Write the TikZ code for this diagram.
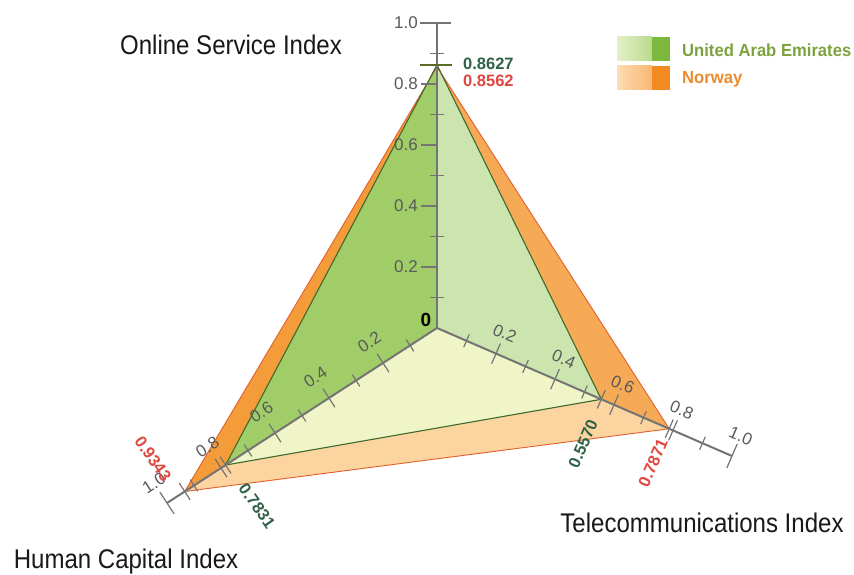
\documentclass[tikz,border=0pt]{standalone}
\usepackage{fontspec}
\usepackage{graphicx}
\setmainfont{Liberation Sans}
\usetikzlibrary{calc}
\definecolor{axisgray}{HTML}{747474}
\definecolor{labgray}{HTML}{5A5A5A}
\definecolor{norNW}{HTML}{F49C3A}
\definecolor{norNE}{HTML}{F6AA55}
\definecolor{norS}{HTML}{FCD4A0}
\definecolor{uaeNW}{HTML}{A1CD69}
\definecolor{uaeNE}{HTML}{CCE5AF}
\definecolor{uaeS}{HTML}{F0F5C8}
\definecolor{noredge}{HTML}{E2602C}
\definecolor{uaeedge}{HTML}{3D6A2C}
\definecolor{valgreen}{HTML}{2F6248}
\definecolor{valred}{HTML}{E0473F}
\definecolor{leggreen}{HTML}{7EA23E}
\definecolor{legorange}{HTML}{EC8B2B}
\definecolor{olivetick}{HTML}{5A6B2A}
\definecolor{lgA}{HTML}{E3F0C8}
\definecolor{lgB}{HTML}{B9DA8E}
\definecolor{lgC}{HTML}{7CB83E}
\definecolor{loA}{HTML}{FDDCB4}
\definecolor{loB}{HTML}{F9B772}
\definecolor{loC}{HTML}{F38A21}
\tikzset{
  axisline/.style={draw=axisgray, line width=2pt},
  tickline/.style={draw=axisgray, line width=1.2pt},
  axlab/.style={text=labgray, font=\fontsize{17}{19}\selectfont, inner sep=0pt},
  vallab/.style={font=\bfseries\fontsize{16.5}{18}\selectfont, inner sep=0pt},
  title/.style={text=black!90, font=\fontsize{27}{29}\selectfont, inner sep=0pt},
  legtext/.style={font=\bfseries\fontsize{17.5}{19}\selectfont, inner sep=0pt, anchor=west}
}
\begin{document}
\begin{tikzpicture}[x=1pt,y=-1pt]
\path[use as bounding box, fill=white] (0,0) rectangle (854,575);
\coordinate (O) at (437,328);
\coordinate (T) at (437,23);
\coordinate (H) at (167,503);
\coordinate (C) at (732,456);
\coordinate (nT) at ($(O)!0.8562!(T)$);
\coordinate (nH) at ($(O)!0.9343!(H)$);
\coordinate (nC) at ($(O)!0.7871!(C)$);
\coordinate (uT) at ($(O)!0.8627!(T)$);
\coordinate (uH) at ($(O)!0.7831!(H)$);
\coordinate (uC) at ($(O)!0.5570!(C)$);
% Norway fill
\fill[norNW] (O)--(nT)--(nH)--cycle;
\fill[norNE] (O)--(nT)--(nC)--cycle;
\fill[norS] (O)--(nH)--(nC)--cycle;
% UAE fill
\fill[uaeNW] (O)--(uT)--(uH)--cycle;
\fill[uaeNE] (O)--(uT)--(uC)--cycle;
\fill[uaeS] (O)--(uH)--(uC)--cycle;
% outlines
\draw[noredge, line width=0.9pt, line join=round] (nT)--(nH)--(nC)--cycle;
\draw[uaeedge, line width=1.1pt, line join=round] (uT)--(uH)--(uC)--cycle;
% axes
\draw[axisline] (O)--(T);
\draw[axisline] (O)--(H);
\draw[axisline] (O)--(C);
% top axis ticks
\foreach \k in {1,3,5,7,9} {
  \draw[tickline] (430,{328-30.5*\k}) -- (444,{328-30.5*\k});
}
\foreach \k/\t in {2/0.2,4/0.4,6/0.6,8/0.8} {
  \draw[tickline] (421,{328-30.5*\k}) -- (437,{328-30.5*\k});
  \node[axlab, anchor=east] (tl\k) at (418,{328-30.5*\k}) {\t};
}
\draw[tickline] (420,23) -- (451,23);
\node[axlab, anchor=east] (tl10) at (418,23) {1.0};
\draw[olivetick, line width=2pt] (420,{328-305*0.8627}) -- (452,{328-305*0.8627});
% human axis ticks
\foreach \k in {1,3,5,7,9} {
  \coordinate (p) at ($(O)!\k/10!(H)$);
  \draw[tickline] ($(p)!7pt!90:(O)$) -- ($(p)!7pt!-90:(O)$);
}
\foreach \k/\t in {2/0.2,4/0.4,6/0.6,8/0.8} {
  \coordinate (p) at ($(O)!\k/10!(H)$);
  \draw[tickline] ($(p)!11pt!90:(O)$) -- ($(p)!11pt!-90:(O)$);
  \node[axlab, rotate=33] (hl\k) at ($(p)!25pt!90:(O)$) {\t};
}
\draw[tickline] ($(H)!13pt!90:(O)$) -- ($(H)!13pt!-90:(O)$);
\node[axlab, rotate=33] (hl10) at ($(H)!24pt!90:(O)$) {1.0};
\draw[tickline] ($(uH)!10pt!90:(O)$) -- ($(uH)!10pt!-90:(O)$);
\draw[tickline] ($(nH)!10pt!90:(O)$) -- ($(nH)!10pt!-90:(O)$);
% telecom axis ticks
\foreach \k in {1,3,5,7,9} {
  \coordinate (p) at ($(O)!\k/10!(C)$);
  \draw[tickline] ($(p)!7pt!90:(O)$) -- ($(p)!7pt!-90:(O)$);
}
\foreach \k/\t in {2/0.2,4/0.4,6/0.6,8/0.8} {
  \coordinate (p) at ($(O)!\k/10!(C)$);
  \draw[tickline] ($(p)!11pt!90:(O)$) -- ($(p)!11pt!-90:(O)$);
  \node[axlab, rotate=-23.5] (cl\k) at ($(p)!22pt!-90:(O)$) {\t};
}
\draw[tickline] ($(C)!13pt!90:(O)$) -- ($(C)!13pt!-90:(O)$);
\node[axlab, rotate=-23.5] (cl10) at ($(C)!22pt!-90:(O)$) {1.0};
\draw[tickline] ($(uC)!10pt!90:(O)$) -- ($(uC)!10pt!-90:(O)$);
\draw[tickline] ($(nC)!10pt!90:(O)$) -- ($(nC)!10pt!-90:(O)$);
% origin label
\node[font=\bfseries\fontsize{19}{21}\selectfont, inner sep=0pt] (zero) at (426,320) {0};
% value labels
\node[vallab, text=valgreen, anchor=west] (v1) at (463,64) {0.8627};
\node[vallab, text=valred, anchor=west] (v2) at (463,81) {0.8562};
\node[vallab, text=valred, rotate=-55] (v3) at (153,459) {0.9343};
\node[vallab, text=valgreen, rotate=-55] (v4) at (257,506) {0.7831};
\node[vallab, text=valgreen, rotate=66.5] (v5) at (583,444) {0.5570};
\node[vallab, text=valred, rotate=66.5] (v6) at (653,463) {0.7871};
% titles
\node[title] (ost) at (231,45) {\scalebox{0.89}[1]{Online Service Index}};
\node[title] (tel) at (702,523) {\scalebox{0.89}[1]{Telecommunications Index}};
\node[title] (hum) at (126,562) {\scalebox{0.89}[1]{Human Capital Index}};
% legend
\shade[left color=lgA, right color=lgB] (617,37) rectangle (652,61);
\fill[lgC] (652,37) rectangle (670,61);
\shade[left color=loA, right color=loB] (617,66) rectangle (652,90);
\fill[loC] (652,66) rectangle (670,90);
\node[legtext, text=leggreen] (lg1) at (682,50) {\scalebox{0.95}[1]{United Arab Emirates}};
\node[legtext, text=legorange] (lg2) at (682,79) {\scalebox{0.95}[1]{Norway}};
\end{tikzpicture}
\end{document}
